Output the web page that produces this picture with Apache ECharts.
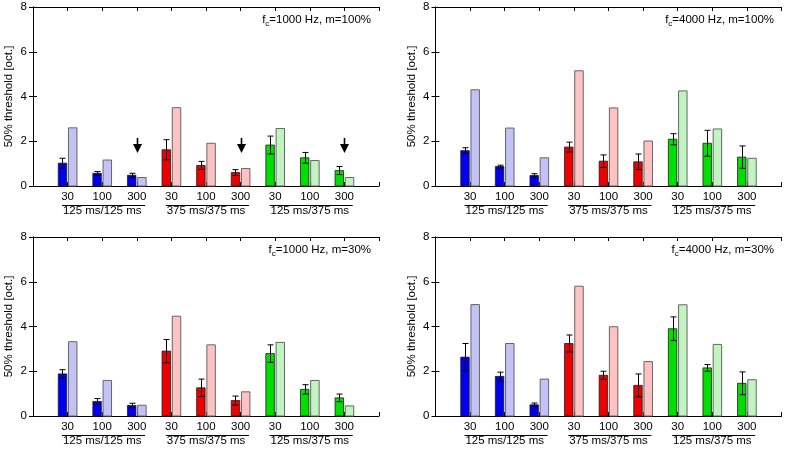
<!DOCTYPE html>
<html><head><meta charset="utf-8">
<script src="https://cdn.jsdelivr.net/npm/echarts@6/dist/echarts.min.js"></script>
<style>html,body{margin:0;padding:0;background:#fff}#c{width:786px;height:449px}</style>
</head><body><div id="c"></div>
<script>
// ---- data ----
const tickLabels = ['30','100','300','30','100','300','30','100','300'];
const conditionLabels = ['125 ms/125 ms','375 ms/375 ms','125 ms/375 ms'];
const conditionCenters = [2, 5, 8];
const yMin = 0, yMax = 8, yStep = 2;

const panelFc = ['1000', '4000', '1000', '4000'];
const panelM  = ['100%', '100%', '30%', '30%'];

// panel 1: fc=1000 Hz, m=100%
const p1Dark  = [1.02, 0.57, 0.48, 1.62, 0.92, 0.60, 1.83, 1.26, 0.69];
const p1Err   = [0.22, 0.08, 0.09, 0.45, 0.18, 0.13, 0.40, 0.24, 0.18];
const p1Light = [2.60, 1.16, 0.38, 3.50, 1.91, 0.78, 2.57, 1.14, 0.38];
// panel 2: fc=4000 Hz, m=100%
const p2Dark  = [1.58, 0.87, 0.47, 1.74, 1.11, 1.08, 2.09, 1.91, 1.29];
const p2Err   = [0.13, 0.06, 0.08, 0.22, 0.28, 0.35, 0.25, 0.58, 0.50];
const p2Light = [4.30, 2.59, 1.26, 5.15, 3.49, 2.01, 4.25, 2.55, 1.24];
// panel 3: fc=1000 Hz, m=30%
const p3Dark  = [1.88, 0.65, 0.47, 2.90, 1.26, 0.69, 2.79, 1.19, 0.81];
const p3Err   = [0.19, 0.13, 0.10, 0.52, 0.39, 0.20, 0.39, 0.21, 0.17];
const p3Light = [3.32, 1.59, 0.48, 4.46, 3.18, 1.08, 3.29, 1.59, 0.45];
// panel 4: fc=4000 Hz, m=30%
const p4Dark  = [2.63, 1.77, 0.50, 3.24, 1.82, 1.37, 3.90, 2.15, 1.46];
const p4Err   = [0.61, 0.19, 0.08, 0.38, 0.18, 0.51, 0.53, 0.15, 0.51];
const p4Light = [4.98, 3.24, 1.65, 5.80, 3.99, 2.43, 4.97, 3.20, 1.62];

// arrows in panel 1 (x position, top value, tip value)
const arrowX = [3, 6, 9];
const arrowTop = 2.15;
const arrowTip = 1.48;

// ---- style ----
const FONT = "'Liberation Sans', Arial, sans-serif";
const FS = 11.5;
const darkColors  = ['#0000ee', '#ee0000', '#00e000'];
const lightColors = ['#c2c2f4', '#ffc2c2', '#c2f4c2'];
const darkBorder = '#1a1a1a';
const lightBorder = '#666666';

const panels = [
  {dark: p1Dark, err: p1Err, light: p1Light},
  {dark: p2Dark, err: p2Err, light: p2Light},
  {dark: p3Dark, err: p3Err, light: p3Light},
  {dark: p4Dark, err: p4Err, light: p4Light}
];
const grids = [
  {left: 33,    top: 7,   width: 346, height: 179},
  {left: 435.5, top: 7,   width: 346, height: 179},
  {left: 33,    top: 237, width: 346, height: 179},
  {left: 435.5, top: 237, width: 346, height: 179}
];
const titlePos = [
  {right: 415, top: 13}, {right: 12, top: 13},
  {right: 415, top: 243}, {right: 12, top: 243}
];

function barsRender(params, api) {
  const x = api.value(0), d = api.value(1), e = api.value(2), l = api.value(3), g = api.value(4);
  const dTL = api.coord([x - 0.27, d]), dBR = api.coord([x - 0.025, 0]);
  const lTL = api.coord([x + 0.025, l]), lBR = api.coord([x + 0.27, 0]);
  const cx = Math.round((dTL[0] + dBR[0]) / 2) + 0.5;
  const yT = api.coord([x, d + e])[1], yB = api.coord([x, d - e])[1];
  const cap = 3;
  return {
    type: 'group',
    children: [
      {type: 'rect', shape: {x: dTL[0], y: dTL[1], width: dBR[0] - dTL[0], height: dBR[1] - dTL[1]},
        style: {fill: darkColors[g], stroke: darkBorder, lineWidth: 0.8}},
      {type: 'rect', shape: {x: lTL[0], y: lTL[1], width: lBR[0] - lTL[0], height: lBR[1] - lTL[1]},
        style: {fill: lightColors[g], stroke: lightBorder, lineWidth: 1}},
      {type: 'line', shape: {x1: cx, y1: yT, x2: cx, y2: yB}, style: {stroke: '#000', lineWidth: 1}},
      {type: 'line', shape: {x1: cx - cap, y1: yT, x2: cx + cap, y2: yT}, style: {stroke: '#000', lineWidth: 1}},
      {type: 'line', shape: {x1: cx - cap, y1: yB, x2: cx + cap, y2: yB}, style: {stroke: '#000', lineWidth: 1}}
    ]
  };
}

function groupLineRender(params, api) {
  const c = api.value(0);
  const a = api.coord([c - 1.16, 0]), b = api.coord([c + 1.24, 0]);
  const y = Math.round(a[1] + 19) + 0.5;
  return {type: 'line', shape: {x1: a[0], y1: y, x2: b[0], y2: y}, style: {stroke: '#000', lineWidth: 1}};
}

function arrowRender(params, api) {
  const x = api.value(0);
  const top = api.coord([x, api.value(1)]);
  const tip = api.coord([x, api.value(2)]);
  const cx = Math.round(top[0]) + 0.5;
  const headH = 9, headW = 4.5;
  return {
    type: 'group',
    children: [
      {type: 'line', shape: {x1: cx, y1: top[1], x2: cx, y2: tip[1] - headH + 1}, style: {stroke: '#000', lineWidth: 1.6}},
      {type: 'polygon', shape: {points: [[cx - headW, tip[1] - headH], [cx + headW, tip[1] - headH], [cx, tip[1]]]},
        style: {fill: '#000'}}
    ]
  };
}

const xAxes = [], yAxes = [], series = [], titles = [];
panels.forEach((p, k) => {
  xAxes.push({
    gridIndex: k, type: 'value', position: 'bottom', min: 0, max: 10, interval: 1,
    axisLine: {show: true, lineStyle: {color: '#000', width: 1}},
    axisTick: {show: true, inside: true, length: 4, lineStyle: {color: '#000'}},
    axisLabel: {show: true, margin: 5, fontSize: FS, fontFamily: FONT, color: '#000',
      formatter: v => (v >= 1 && v <= 9) ? tickLabels[Math.round(v) - 1] : ''},
    splitLine: {show: false}
  });
  xAxes.push({
    gridIndex: k, type: 'value', position: 'bottom', offset: 14, min: 0, max: 10, interval: 1,
    axisLine: {show: false}, axisTick: {show: false}, splitLine: {show: false},
    axisLabel: {show: true, margin: 5, fontSize: FS, fontFamily: FONT, color: '#000',
      formatter: v => { const i = conditionCenters.indexOf(Math.round(v)); return i >= 0 ? conditionLabels[i] : ''; }}
  });
  xAxes.push({
    gridIndex: k, type: 'value', position: 'top', min: 0, max: 10, interval: 1,
    axisLine: {show: true, lineStyle: {color: '#000', width: 1}},
    axisTick: {show: true, inside: true, length: 4, lineStyle: {color: '#000'}},
    axisLabel: {show: false}, splitLine: {show: false}
  });
  yAxes.push({
    gridIndex: k, type: 'value', position: 'left', min: yMin, max: yMax, interval: yStep,
    name: '50% threshold [oct.]', nameLocation: 'middle', nameGap: 18, nameRotate: 90,
    nameTextStyle: {fontSize: FS, fontFamily: FONT, color: '#000'},
    axisLine: {show: true, lineStyle: {color: '#000', width: 1}},
    axisTick: {show: true, inside: true, length: 4, lineStyle: {color: '#000'}},
    axisLabel: {show: true, margin: 6, fontSize: FS, fontFamily: FONT, color: '#000'},
    splitLine: {show: false}
  });
  yAxes.push({
    gridIndex: k, type: 'value', position: 'right', min: yMin, max: yMax, interval: yStep,
    axisLine: {show: true, lineStyle: {color: '#000', width: 1}},
    axisTick: {show: true, inside: true, length: 4, lineStyle: {color: '#000'}},
    axisLabel: {show: false}, splitLine: {show: false}
  });
  const data = p.dark.map((d, i) => [i + 1, d, p.err[i], p.light[i], Math.floor(i / 3)]);
  series.push({
    type: 'custom', coordinateSystem: 'cartesian2d', xAxisIndex: 3 * k, yAxisIndex: 2 * k,
    renderItem: barsRender, data: data, clip: false, silent: true
  });
  series.push({
    type: 'custom', coordinateSystem: 'cartesian2d', xAxisIndex: 3 * k, yAxisIndex: 2 * k,
    renderItem: groupLineRender, data: conditionCenters.map(c => [c, 0]), clip: false, silent: true
  });
  titles.push(Object.assign({
    text: '{a|f}{b|c}{a|=' + panelFc[k] + ' Hz, m=' + panelM[k] + '}',
    padding: 0,
    textStyle: {
      fontWeight: 'normal',
      rich: {
        a: {fontSize: FS, fontFamily: FONT, fontWeight: 'normal', color: '#000', lineHeight: 13},
        b: {fontSize: 8, fontFamily: FONT, fontWeight: 'normal', color: '#000', lineHeight: 9, padding: [8, 0, 0, 0]}
      }
    }
  }, titlePos[k]));
});
series.push({
  type: 'custom', coordinateSystem: 'cartesian2d', xAxisIndex: 0, yAxisIndex: 0,
  renderItem: arrowRender, data: arrowX.map(x => [x, arrowTop, arrowTip]), clip: false, silent: true
});

const chart = echarts.init(document.getElementById('c'), null, {renderer: 'canvas'});
chart.setOption({
  animation: false,
  backgroundColor: '#fff',
  title: titles,
  grid: grids,
  xAxis: xAxes,
  yAxis: yAxes,
  series: series
});
</script>
</body></html>
